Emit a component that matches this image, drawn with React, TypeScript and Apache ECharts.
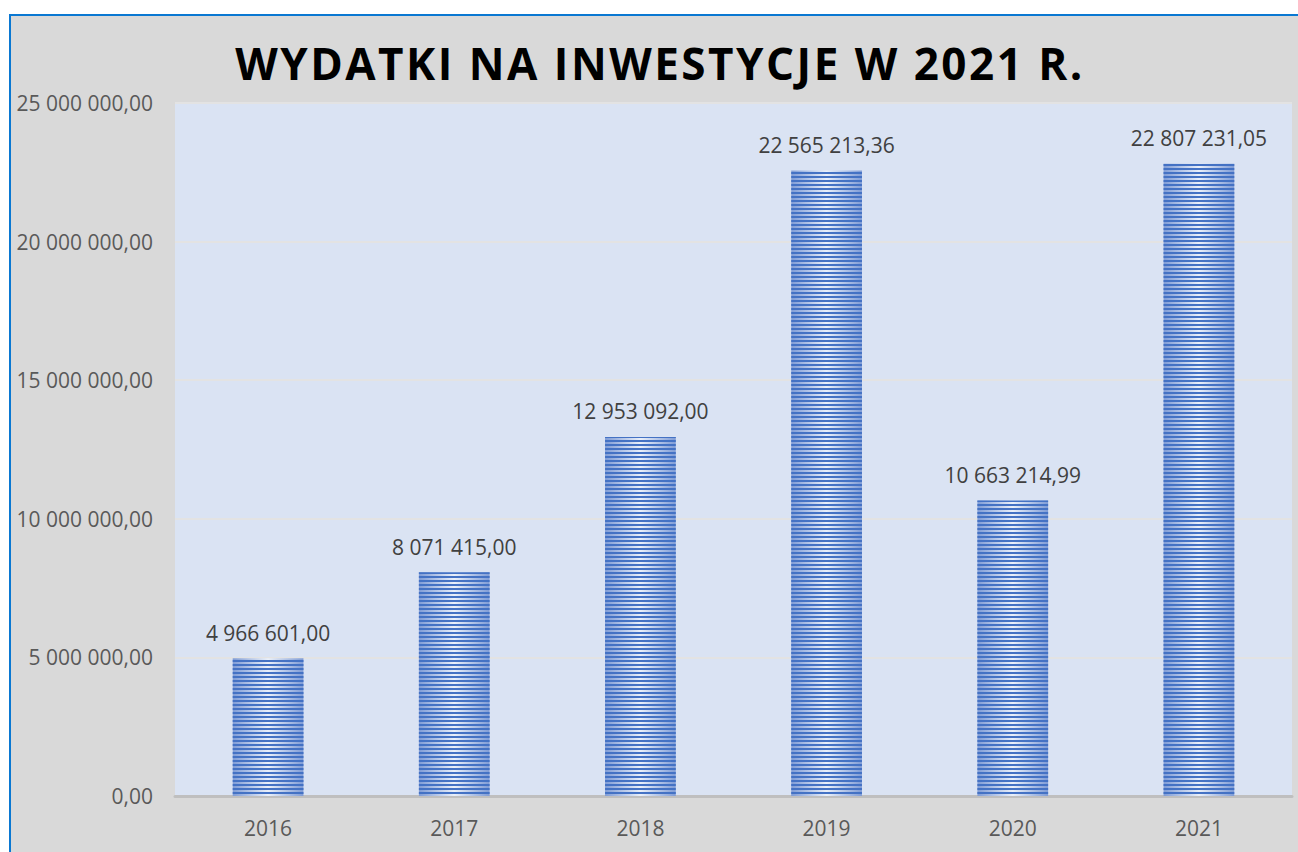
import React, { useEffect, useRef } from "react";
import * as echarts from "echarts";

const categories = ["2016", "2017", "2018", "2019", "2020", "2021"];
const values = [4966601.0, 8071415.0, 12953092.0, 22565213.36, 10663214.99, 22807231.05];
const titleText = "WYDATKI NA INWESTYCJE W 2021 R.";
const yMax = 25000000;
const yInterval = 5000000;

function fmt(v: number): string {
  const fixed = v.toFixed(2);
  const [intPart, dec] = fixed.split(".");
  const grouped = intPart.replace(/\B(?=(\d{3})+(?!\d))/g, " ");
  return grouped + "," + dec;
}

export default function App() {
  const ref = useRef<HTMLDivElement>(null);
  useEffect(() => {
    if (!ref.current) return;
    const el = ref.current;
    const chart = echarts.init(el, null, { renderer: "svg" });
    const spaceTitle = () => {
      el.querySelectorAll("text").forEach((t) => {
        if (t.textContent === titleText) t.setAttribute("letter-spacing", "2.5");
      });
    };
    chart.on("finished", spaceTitle);
    chart.setOption({
      animation: false,
      backgroundColor: "transparent",
      textStyle: { fontFamily: "Open Sans" },
      graphic: [
        {
          type: "text",
          x: 649,
          y: 47,
          style: {
            text: titleText,
            font: "bold 44px 'Open Sans'",
            fill: "#000000",
            textAlign: "center",
            textVerticalAlign: "middle",
          },
        },
      ],
      grid: { left: 164, right: 6, top: 87, bottom: 56, containLabel: false },
      xAxis: {
        type: "category",
        data: categories,
        axisTick: { show: false },
        axisLine: { show: true, lineStyle: { color: "#bfbfbf", width: 3 } },
        axisLabel: { color: "#595959", fontSize: 21, fontFamily: "Open Sans", margin: 21 },
        splitArea: { show: false },
      },
      yAxis: {
        type: "value",
        min: 0,
        max: yMax,
        interval: yInterval,
        axisLine: { show: false },
        axisTick: { show: false },
        axisLabel: {
          color: "#595959",
          fontSize: 21,
          fontFamily: "Open Sans",
          margin: 22,
          formatter: (v: number) => fmt(v),
        },
        splitLine: { show: true, lineStyle: { color: "#e3e3e3", width: 2 } },
      },
      series: [
        {
          type: "bar",
          data: values,
          barWidth: "38%",
          itemStyle: {
            color: new echarts.graphic.LinearGradient(0, 0, 1, 0, [
              { offset: 0, color: "#7f9cd6" },
              { offset: 0.5, color: "#eaf0fa" },
              { offset: 1, color: "#7f9cd6" },
            ]),
            decal: {
              symbol: "rect",
              symbolSize: 1,
              dashArrayX: [1, 0],
              dashArrayY: [2, 2],
              rotation: 0,
              color: "#4472c4",
            },
          },
          label: {
            show: true,
            position: "top",
            distance: 15,
            color: "#404040",
            fontSize: 21,
            fontFamily: "Open Sans",
            formatter: (p: any) => fmt(p.value),
          },
        },
      ],
    });
    spaceTitle();
    return () => chart.dispose();
  }, []);

  return (
    <div style={{ position: "fixed", left: 0, top: 0, width: 1298, height: 852, background: "#ffffff" }}>
      <div
        style={{
          position: "absolute",
          left: 9,
          top: 14,
          width: 1289,
          height: 838,
          boxSizing: "border-box",
          borderLeft: "2px solid #0a78d2",
          borderTop: "2px solid #0a78d2",
          background: "#d9d9d9",
        }}
      >
        <div
          style={{
            position: "absolute",
            left: 164,
            top: 87,
            width: 1117,
            height: 693,
            background: "#dae3f3",
          }}
        />
        <div ref={ref} style={{ position: "absolute", left: 0, top: 0, width: 1287, height: 836 }} />
      </div>
    </div>
  );
}
